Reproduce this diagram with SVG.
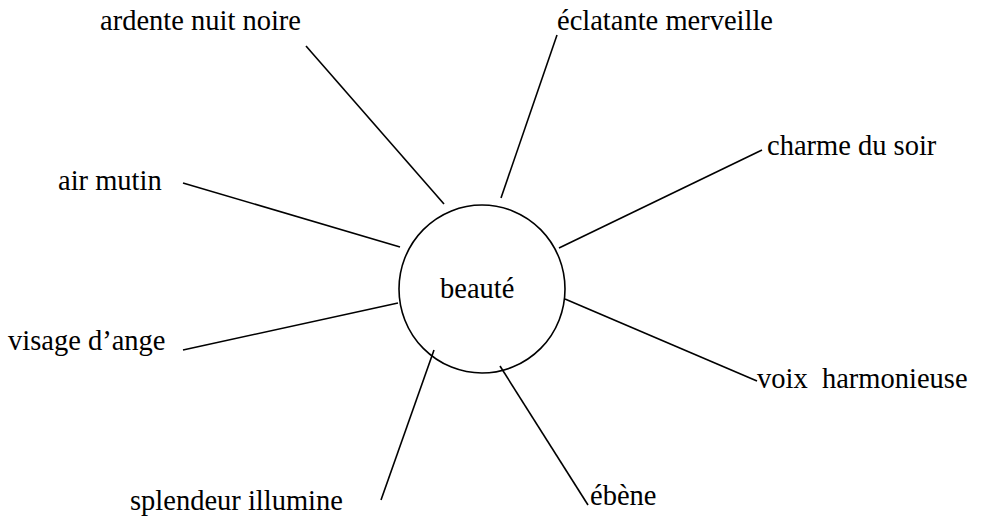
<svg xmlns="http://www.w3.org/2000/svg" width="990" height="522" viewBox="0 0 990 522">
<style>
text{font-family:'Liberation Serif','Times New Roman',Tinos,'DejaVu Serif',serif;font-size:28.5px;fill:#000}
.c{stroke:#000;stroke-width:1.6;fill:none}
</style>
<rect width="990" height="522" fill="#fff"/>
<g id="connectors" class="c">
<line x1="306" y1="46" x2="444" y2="204"/>
<line x1="557" y1="35" x2="501" y2="198"/>
<line x1="762" y1="150" x2="559" y2="248"/>
<line x1="183" y1="183" x2="400" y2="247"/>
<line x1="183" y1="350" x2="398" y2="303"/>
<line x1="565" y1="299" x2="757" y2="381"/>
<line x1="500" y1="366" x2="588" y2="505"/>
<line x1="434" y1="350" x2="381" y2="500"/>
</g>
<g id="center"><ellipse class="c" cx="482" cy="289" rx="83" ry="84"/><text x="440" y="298" font-family="Liberation Serif, serif">beauté</text></g>
<g id="n1"><text x="100" y="30">ardente nuit noire</text></g>
<g id="n2"><text x="557" y="30">éclatante merveille</text></g>
<g id="n3"><text x="767" y="155">charme du soir</text></g>
<g id="n4"><text x="58" y="190">air mutin</text></g>
<g id="n5"><text x="8" y="350">visage d’ange</text></g>
<g id="n6"><text x="757" y="388" xml:space="preserve">voix  harmonieuse</text></g>
<g id="n7"><text x="590" y="505">ébène</text></g>
<g id="n8"><text x="130" y="510">splendeur illumine</text></g>
</svg>
